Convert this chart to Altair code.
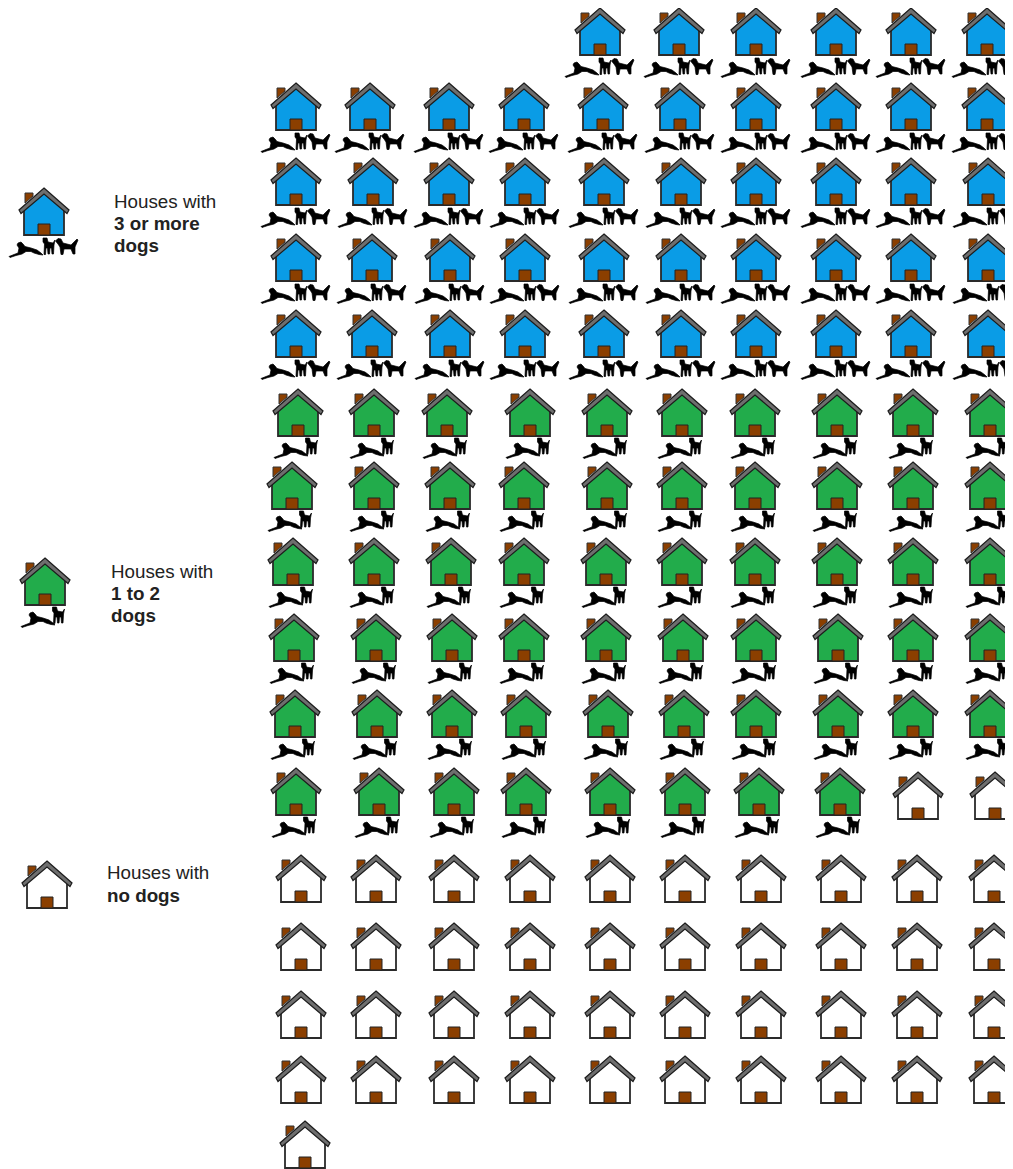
import altair as alt
import pandas as pd

# House positions: (row y, [x...]) of each roof apex
blue_rows = [
    (8, [600, 679, 756, 836, 911, 987]),
    (83, [296, 370, 449, 524, 603, 680, 756, 836, 911, 987]),
    (158, [296, 373, 449, 525, 604, 681, 756, 836, 911, 988]),
    (234, [296, 372, 450, 525, 604, 681, 756, 836, 911, 988]),
    (310, [296, 372, 450, 525, 604, 681, 756, 836, 911, 988]),
]
green_rows = [
    (389, [298, 374, 447, 530, 607, 682, 755, 837, 913, 990]),
    (462, [292, 374, 450, 524, 607, 682, 755, 837, 913, 990]),
    (538, [293, 374, 451, 524, 606, 682, 755, 837, 913, 990]),
    (614, [294, 376, 452, 524, 606, 683, 756, 838, 913, 990]),
    (690, [295, 377, 452, 526, 608, 684, 756, 838, 913, 990]),
    (768, [296, 379, 454, 526, 610, 685, 759, 840]),
]
white_rows = [
    (772, [918, 995]),
    (855, [301, 376, 454, 530, 610, 685, 761, 841, 917, 994]),
    (923, [301, 376, 454, 530, 610, 685, 761, 841, 917, 994]),
    (991, [301, 376, 454, 530, 610, 685, 761, 841, 917, 994]),
    (1056, [301, 376, 454, 530, 610, 685, 761, 841, 917, 994]),
    (1121, [305]),
]
legend_houses = [("3+", 44, 188), ("1-2", 45, 558), ("0", 47, 861)]
categories = ["3+", "1-2", "0"]
wall_colors = ["#0A9CE6", "#22AC4B", "#FFFFFF"]

label_lines = [
    (114, 202, "Houses with", "normal"),
    (114, 224, "3 or more", "bold"),
    (114, 246, "dogs", "bold"),
    (111, 572, "Houses with", "normal"),
    (111, 594, "1 to 2", "bold"),
    (111, 616, "dogs", "bold"),
    (107, 873, "Houses with", "normal"),
    (107, 896, "no dogs", "bold"),
]

rows = []
for cat, group in (("3+", blue_rows), ("1-2", green_rows), ("0", white_rows)):
    for y, xs in group:
        rows += [{"x": x, "y": y, "cat": cat} for x in xs]
rows += [{"x": x, "y": y, "cat": c} for c, x, y in legend_houses]
houses = pd.DataFrame(rows)
labels = pd.DataFrame(label_lines, columns=["x", "y", "text", "weight"])

# Pictogram glyphs: outlines relative to the roof apex, in a 50-unit box
GLYPH_SIZE = 2500


def glyph(*polys, dx=0, dy=0):
    out = []
    for p in polys:
        pts = [f"{(a + dx) / 25:.3f},{(b + dy) / 25:.3f}" for a, b in p]
        out.append("M" + "L".join(pts) + "Z")
    return "".join(out)


WALL = glyph([(-20, 47), (-20, 20), (0, 3), (20, 20), (20, 47)])
DOOR = glyph([(-6, 36), (6, 36), (6, 47), (-6, 47)])
CHIMNEY = glyph([(-19, 5), (-11, 5), (-11, 8), (-19, 15)])
ROOF = glyph([(0, 0), (25, 22), (23, 25.5), (0, 6), (-23, 25.5), (-25, 22)])
RUNNER = [(-35, 68.5), (-30, 66.5), (-26, 65), (-25, 60), (-27, 57), (-26, 55), (-23, 54), (-21, 56),
          (-19, 58.5), (-13, 60), (-7, 62), (-3, 65), (-1, 67), (-5, 66.5), (-10, 65), (-13, 63.5),
          (-18, 63.5), (-22, 66), (-28, 67.5), (-34, 69.5)]
STANDER = [(-1, 50), (3, 50), (4, 54), (9, 55), (11, 52), (10, 57), (9.5, 66), (8, 66), (7.5, 60),
           (6, 60), (5.5, 66), (4, 66), (3.5, 60), (2, 60), (1.5, 66.5), (0, 66.5), (0.5, 56), (-1, 54)]
THIRD = [(11.5, 53), (14, 50.5), (17, 51), (19, 55), (27, 57), (33, 51), (34, 52), (31, 59), (31, 66),
         (29, 66), (27, 61), (20, 61), (19, 66.5), (17, 66.5), (16, 59), (14, 56)]
DOGS3 = glyph(RUNNER, STANDER, THIRD)
DOGS2 = glyph(RUNNER, dx=11) + glyph(STANDER, dx=8.5, dy=-1)

x_enc = alt.X("x:Q", axis=None, scale=alt.Scale(domain=[8, 1005], range=[0, 997], nice=False, zero=False))
y_enc = alt.Y("y:Q", axis=None, scale=alt.Scale(domain=[8, 1169], range=[0, 1161], nice=False, zero=False))


def symbol(data, shape, **kw):
    style = dict(filled=True, opacity=1, size=GLYPH_SIZE, clip=True, shape=shape)
    style.update(kw)
    return alt.Chart(data).mark_point(**style).encode(x=x_enc, y=y_enc)


walls = symbol(houses, WALL, stroke="#2a2a2a", strokeWidth=1.8).encode(
    color=alt.Color("cat:N", legend=None, scale=alt.Scale(domain=categories, range=wall_colors))
)
chimney = symbol(houses, CHIMNEY, fill="#8B3F00", stroke="#333333", strokeWidth=1)
door = symbol(houses, DOOR, fill="#8B3F00", stroke="#222222", strokeWidth=1)
roof = symbol(houses, ROOF, fill="#6E6E6E", stroke="#1c1c1c", strokeWidth=1.2)
dogs_three = symbol(houses[houses.cat == "3+"], DOGS3, fill="#000000", stroke="#000000", strokeWidth=0.7)
dogs_two = symbol(houses[houses.cat == "1-2"], DOGS2, fill="#000000", stroke="#000000", strokeWidth=0.7)


def text_layer(weight):
    return alt.Chart(labels[labels.weight == weight]).mark_text(
        align="left", baseline="middle", font="Liberation Sans", fontSize=18.8,
        fontWeight=weight, color="#222222"
    ).encode(x=x_enc, y=y_enc, text="text:N")


chart = alt.layer(
    chimney, walls, door, roof, dogs_three, dogs_two, text_layer("normal"), text_layer("bold")
).properties(width=997, height=1161, padding=0, background="#FFFFFF").configure_view(stroke=None)

chart.save("out.html", embed_options={"renderer": "svg", "actions": False})
